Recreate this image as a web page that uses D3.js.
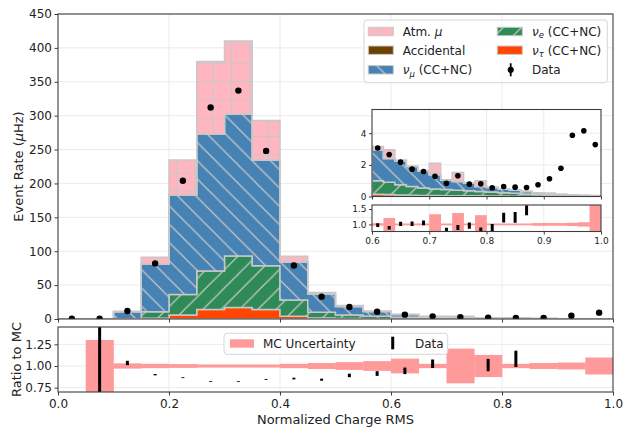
<!DOCTYPE html>
<html><head><meta charset="utf-8">
<script src="https://cdn.jsdelivr.net/npm/d3@7"></script>
<style>
body{margin:0;background:#fff}
svg{display:block}
text{font-family:"DejaVu Sans",sans-serif;fill:#222}
</style>
</head><body>
<svg id="c" width="624" height="428"></svg>
<script>
// ---------------- DATA ----------------
const mainEdges = [0.00,0.05,0.10,0.15,0.20,0.25,0.30,0.35,0.40,0.45,0.50,0.55,0.60,0.65,0.70,0.75,0.80,0.85,0.90,0.95,1.00];
const mainCenters = [0.025,0.075,0.125,0.175,0.225,0.275,0.325,0.375,0.425,0.475,0.525,0.575,0.625,0.675,0.725,0.775,0.825,0.875,0.925,0.975];
// stacked components (µHz), bottom -> top
const mainNuTau      = [0,0,0.2,1,6,14,17,14,4,1.5,0.8,0.5,0.3,0.2,0.15,0.1,0.08,0.05,0.03,0.02];
const mainNuE        = [0,0,0.3,9.8,30,57,76,64.5,24,8.5,5.2,3.5,2.1,1.2,0.95,0.7,0.52,0.3,0.12,0.08];
const mainNuMu       = [0,0,10.3,70.2,147,202,209,156.1,56,27,12.5,7,4.1,2.3,1.8,1.1,0.7,0.25,0.15,0.05];
const mainAccidental = [0,0,0,0,0,0,0,0,0,0,0,0,0,0,0,0,0,0,0,0];
const mainAtmMu      = [0,0,0.7,10,51.6,107,108,58.4,8.5,2,1.4,0.8,0.3,0.1,1.0,0.1,0.1,0.1,0.05,0.05];
const mainData       = [0.3,0.3,11.8,82,204,312,337,248,79,33,17.7,10.8,6.4,3.9,2.8,2.1,1.5,1.6,4.8,9.4];
// ratio panel
const mainMcUnc      = [null,0.30,0.03,0.025,0.022,0.018,0.018,0.018,0.025,0.035,0.045,0.056,0.085,0.025,0.2,0.128,0.025,0.035,0.04,0.098];
const mainRatio      = [null,1.0,1.035,0.90,0.865,0.82,0.82,0.845,0.855,0.842,0.891,0.913,0.944,1.026,0.62,1.011,1.083,2.3,13,47];
const mainRatioErr   = [null,5,0.025,0.008,0.005,0.004,0.004,0.005,0.01,0.012,0.02,0.027,0.038,0.049,0.05,0.071,0.094,0.2,1,2];

// inset (0.6 - 1.0, 0.02 bins)
const insetEdges = [0.60,0.62,0.64,0.66,0.68,0.70,0.72,0.74,0.76,0.78,0.80,0.82,0.84,0.86,0.88,0.90,0.92,0.94,0.96,0.98,1.00];
const insetCenters = [0.61,0.63,0.65,0.67,0.69,0.71,0.73,0.75,0.77,0.79,0.81,0.83,0.85,0.87,0.89,0.91,0.93,0.95,0.97,0.99];
const insetNuTau      = [0.15,0.12,0.1,0.08,0.07,0.06,0.05,0.05,0.04,0.04,0.03,0.03,0.02,0.02,0.02,0.01,0.01,0.01,0.01,0.01];
const insetNuE        = [0.85,0.78,0.64,0.55,0.46,0.42,0.39,0.35,0.32,0.28,0.25,0.2,0.19,0.13,0.11,0.09,0.05,0.04,0.02,0.01];
const insetNuMu       = [1.95,1.5,1.51,1.27,1.09,0.89,0.6,0.55,0.48,0.31,0.29,0.23,0.19,0.17,0.1,0.09,0.07,0.05,0.04,0.03];
const insetAccidental = [0,0,0,0,0,0,0,0,0,0,0,0,0,0,0,0,0,0,0,0];
const insetAtmMu      = [0.21,0.55,0.05,0.02,0.02,0.73,0.02,0.57,0.02,0.36,0.01,0.01,0.01,0.01,0.01,0.01,0.01,0.01,0.01,0.01];
const insetData       = [3.07,2.65,2.17,1.73,1.58,1.28,0.84,1.31,0.78,0.80,0.55,0.63,0.59,0.57,0.74,1.12,1.79,3.87,4.15,3.28];
const insetMcUnc      = [0.04,0.21,0.03,0.03,0.03,0.33,0.03,0.37,0.03,0.3,0.03,0.03,0.03,0.03,0.045,0.045,0.045,0.055,0.07,0.65];
const insetRatio      = [0.98,0.89,1.02,1.02,1.05,0.55,0.82,0.9,0.96,0.82,0.89,1.22,1.23,1.46,2.5,4,9,30,40,40];
const insetRatioErr   = [0.06,0.055,0.07,0.075,0.08,0.05,0.07,0.08,0.1,0.08,0.12,0.16,0.175,0.165,0.3,0.5,1,3,3,3];

// ticks
const mainYTicks   = [0,50,100,150,200,250,300,350,400,450];
const xTicks       = [0.0,0.2,0.4,0.6,0.8,1.0];
const ratioYTicks  = [0.75,1.00,1.25];
const insetXTicks  = [0.6,0.7,0.8,0.9,1.0];
const insetYTicks  = [0,2,4];
const insetRYTicks = [1.0,1.5];

// ---------------- STYLE ----------------
const C_ATM="#ffb6c1", C_ACC="#6b4200", C_MU="#4682b4", C_E="#2e8b57", C_TAU="#ff4500", C_BAND="#ff9a9a";
const EDGE="#c8c8c8", SPINE="#3d3d3d", GRID="#ebebeb";
const HS = 18.3;

const svg = d3.select("#c");
const defs = svg.append("defs");
function pattern(id, d, tx, ty){
  defs.append("pattern").attr("id",id).attr("patternUnits","userSpaceOnUse")
    .attr("width",HS).attr("height",HS).attr("patternTransform",`translate(${tx||0},${ty||0})`)
    .append("path").attr("d",d).attr("fill","none").attr("stroke",EDGE).attr("stroke-width",1.2);
}
pattern("hBack",`M-1,-1L${HS+1},${HS+1}M${HS-1},-1L${HS+1},1M-1,${HS-1}L1,${HS+1}`);
pattern("hFwd",`M-1,${HS+1}L${HS+1},-1M-1,1L1,-1M${HS-1},${HS+1}L${HS+1},${HS-1}`);
pattern("hPlus",`M${HS/2},0V${HS}M0,${HS/2}H${HS}`,2.85,-0.75);

function clip(id,x0,y0,x1,y1){
  defs.append("clipPath").attr("id",id).append("rect").attr("x",x0).attr("y",y0).attr("width",x1-x0).attr("height",y1-y0);
}

// ---------------- SCALES ----------------
const X0=58, X1=613;
const x = d3.scaleLinear([0,1],[X0,X1]);
const yMain = d3.scaleLinear([0,450],[319,14]);
const yRatio = d3.scaleLinear([0.7,1.45],[392,327]);
const IX0=372, IX1=601;
const xIn = d3.scaleLinear([0.6,1.0],[IX0,IX1]);
const yIn = d3.scaleLinear([0,5.5],[196.5,109.5]);
const yInR = d3.scaleLinear([0.77,1.63],[231.5,205]);

clip("cMain",X0,14,X1,319);
clip("cRatio",X0,327,X1,392);
clip("cIn",IX0,109.5,IX1,196.5);
clip("cInR",IX0,205,IX1,231.5);

function styleAxis(g, fs){
  g.select(".domain").remove();
  g.selectAll(".tick line").attr("stroke",SPINE).attr("stroke-width",1);
  g.selectAll(".tick text").attr("font-size",fs).attr("fill","#222").attr("font-family","DejaVu Sans");
}
function grid(g, xs, ys, xv, yv, x0,x1,y0,y1){
  g.selectAll(null).data(xv).join("line").attr("x1",d=>xs(d)).attr("x2",d=>xs(d)).attr("y1",y0).attr("y2",y1)
    .attr("stroke",GRID).attr("stroke-width",1);
  g.selectAll(null).data(yv).join("line").attr("y1",d=>ys(d)).attr("y2",d=>ys(d)).attr("x1",x0).attr("x2",x1)
    .attr("stroke",GRID).attr("stroke-width",1);
}
function frame(x0,y0,x1,y1){
  svg.append("rect").attr("x",x0).attr("y",y0).attr("width",x1-x0).attr("height",y1-y0)
    .attr("fill","none").attr("stroke",SPINE).attr("stroke-width",1.1);
}
function drawStack(g, edges, comps, colors, hatches, xs, ys){
  const n = edges.length-1;
  let base = new Array(n).fill(0);
  comps.forEach((vals,k)=>{
    const top = base.map((b,i)=>b+vals[i]);
    const pts = edges.map((e,j)=>({x:e, y0:base[Math.min(j,n-1)], y1:top[Math.min(j,n-1)]}));
    const dp = d3.area().curve(d3.curveStepAfter).x(d=>xs(d.x)).y0(d=>ys(d.y0)).y1(d=>ys(d.y1))(pts);
    g.append("path").attr("d",dp).attr("fill",colors[k]);
    if(hatches[k]) g.append("path").attr("d",dp).attr("fill",`url(#${hatches[k]})`);
    g.append("path").attr("d",dp).attr("fill","none").attr("stroke",EDGE).attr("stroke-width",1.5).attr("stroke-linejoin","miter");
    base = top;
  });
}
function drawRatio(g, edges, centers, unc, ratio, err, xs, ys, bw){
  const bins = unc.map((u,i)=>({u, a:edges[i], b:edges[i+1]})).filter(d=>d.u!=null);
  g.selectAll(null).data(bins).join("rect")
    .attr("x",d=>xs(d.a)).attr("width",d=>xs(d.b)-xs(d.a)+0.3)
    .attr("y",d=>ys(1+d.u)).attr("height",d=>ys(1-d.u)-ys(1+d.u)).attr("fill",C_BAND);
  const pts = ratio.map((r,i)=>({r, e:err[i], c:centers[i]})).filter(d=>d.r!=null);
  g.selectAll(null).data(pts).join("line")
    .attr("x1",d=>xs(d.c)).attr("x2",d=>xs(d.c))
    .attr("y1",d=>ys(d.r-d.e)).attr("y2",d=>Math.min(ys(d.r+d.e), ys(d.r-d.e)-0.8))
    .attr("stroke","#000").attr("stroke-width",bw);
}

// ---------------- MAIN PANEL ----------------
const gMain = svg.append("g");
grid(gMain, x, yMain, [0.2,0.4,0.6,0.8], mainYTicks.slice(1), X0, X1, 14, 319);
const gStack = gMain.append("g").attr("clip-path","url(#cMain)");
drawStack(gStack, mainEdges, [mainNuTau,mainNuE,mainNuMu,mainAccidental,mainAtmMu],
  [C_TAU,C_E,C_MU,C_ACC,C_ATM], [null,"hFwd","hBack",null,"hPlus"], x, yMain);
gStack.selectAll(null).data(mainData.map((v,i)=>({v,c:mainCenters[i]}))).join("circle")
  .attr("cx",d=>x(d.c)).attr("cy",d=>yMain(d.v)).attr("r",3.2).attr("fill","#000");
svg.append("g").attr("transform",`translate(${X0},0)`)
  .call(d3.axisLeft(yMain).tickValues(mainYTicks).tickSize(3.5).tickPadding(2.5).tickFormat(d3.format("d")))
  .call(g=>styleAxis(g,12));
svg.append("g").attr("transform",`translate(0,319)`)
  .call(d3.axisBottom(x).tickValues(xTicks).tickSize(3.5).tickFormat(""))
  .call(g=>styleAxis(g,12));
frame(X0,14,X1,319);

// ---------------- RATIO PANEL ----------------
const gR = svg.append("g");
grid(gR, x, yRatio, [0.2,0.4,0.6,0.8], ratioYTicks, X0, X1, 327, 392);
const gRc = gR.append("g").attr("clip-path","url(#cRatio)");
drawRatio(gRc, mainEdges, mainCenters, mainMcUnc, mainRatio, mainRatioErr, x, yRatio, 3);
svg.append("g").attr("transform",`translate(${X0},0)`)
  .call(d3.axisLeft(yRatio).tickValues(ratioYTicks).tickSize(3.5).tickPadding(2.5).tickFormat(d3.format(".2f")))
  .call(g=>styleAxis(g,12));
svg.append("g").attr("transform",`translate(0,392)`)
  .call(d3.axisBottom(x).tickValues(xTicks).tickSize(3.5).tickPadding(4).tickFormat(d3.format(".1f")))
  .call(g=>styleAxis(g,12));
frame(X0,327,X1,392);

// ---------------- INSET ----------------
svg.append("rect").attr("x",IX0).attr("y",109.5).attr("width",IX1-IX0).attr("height",87).attr("fill","#fff");
svg.append("rect").attr("x",IX0).attr("y",205).attr("width",IX1-IX0).attr("height",26.5).attr("fill","#fff");
const gI = svg.append("g");
grid(gI, xIn, yIn, [0.7,0.8,0.9], [2,4], IX0, IX1, 109.5, 196.5);
const gIc = gI.append("g").attr("clip-path","url(#cIn)");
drawStack(gIc, insetEdges, [insetNuTau,insetNuE,insetNuMu,insetAccidental,insetAtmMu],
  [C_TAU,C_E,C_MU,C_ACC,C_ATM], [null,"hFwd","hBack",null,"hPlus"], xIn, yIn);
gIc.selectAll(null).data(insetData.map((v,i)=>({v,c:insetCenters[i]}))).join("circle")
  .attr("cx",d=>xIn(d.c)).attr("cy",d=>yIn(d.v)).attr("r",2.8).attr("fill","#000");
svg.append("g").attr("transform",`translate(${IX0},0)`)
  .call(d3.axisLeft(yIn).tickValues(insetYTicks).tickSize(3).tickPadding(2.5).tickFormat(d3.format("d")))
  .call(g=>styleAxis(g,9));
svg.append("g").attr("transform",`translate(0,196.5)`)
  .call(d3.axisBottom(xIn).tickValues(insetXTicks).tickSize(3).tickFormat(""))
  .call(g=>styleAxis(g,9));
frame(IX0,109.5,IX1,196.5);

const gIR = svg.append("g");
grid(gIR, xIn, yInR, [0.7,0.8,0.9], [], IX0, IX1, 205, 231.5);
const gIRc = gIR.append("g").attr("clip-path","url(#cInR)");
drawRatio(gIRc, insetEdges, insetCenters, insetMcUnc, insetRatio, insetRatioErr, xIn, yInR, 3);
svg.append("g").attr("transform",`translate(${IX0},0)`)
  .call(d3.axisLeft(yInR).tickValues(insetRYTicks).tickSize(3).tickPadding(2.5).tickFormat(d3.format(".1f")))
  .call(g=>styleAxis(g,9));
svg.append("g").attr("transform",`translate(0,231.5)`)
  .call(d3.axisBottom(xIn).tickValues(insetXTicks).tickSize(3).tickPadding(3.5).tickFormat(d3.format(".1f")))
  .call(g=>styleAxis(g,9));
frame(IX0,205,IX1,231.5);

// ---------------- LABELS ----------------
const yl = svg.append("text").attr("transform","translate(23,166.5) rotate(-90)").attr("text-anchor","middle").attr("font-size",13);
yl.append("tspan").text("Event Rate (");
yl.append("tspan").attr("font-style","italic").text("μ");
yl.append("tspan").text("Hz)");
svg.append("text").attr("transform","translate(20.5,359.5) rotate(-90)").attr("text-anchor","middle").attr("font-size",13).text("Ratio to MC");
svg.append("text").attr("x",(X0+X1)/2).attr("y",423.5).attr("text-anchor","middle").attr("font-size",13).text("Normalized Charge RMS");

// ---------------- LEGENDS ----------------
const lg = svg.append("g");
lg.append("rect").attr("x",364).attr("y",20).attr("width",243.3).attr("height",62.7).attr("rx",3)
  .attr("fill","#fff").attr("fill-opacity",0.8).attr("stroke","#d6d6d6").attr("stroke-width",1);
const legendItems = [
  {col:0,row:0,fill:C_ATM,hatch:"hPlus",label:[["Atm. ",""],["μ","i"]]},
  {col:0,row:1,fill:C_ACC,hatch:null,label:[["Accidental",""]]},
  {col:0,row:2,fill:C_MU,hatch:"hBack",label:[["ν","i"],["μ","s"],[" (CC+NC)",""]]},
  {col:1,row:0,fill:C_E,hatch:"hFwd",label:[["ν","i"],["e","s"],[" (CC+NC)",""]]},
  {col:1,row:1,fill:C_TAU,hatch:null,label:[["ν","i"],["τ","s"],[" (CC+NC)",""]]},
  {col:1,row:2,data:true,label:[["Data",""]]}
];
const rowY=[31.5,50.2,69.8], colPX=[368.3,497.3], colTX=[402.7,532];
legendItems.forEach(it=>{
  const cy=rowY[it.row], px=colPX[it.col];
  if(it.data){
    lg.append("line").attr("x1",px+13.4).attr("x2",px+13.4).attr("y1",cy-6.5).attr("y2",cy+6.5).attr("stroke","#000").attr("stroke-width",1.8);
    lg.append("circle").attr("cx",px+13.4).attr("cy",cy).attr("r",3.1).attr("fill","#000");
  } else {
    lg.append("rect").attr("x",px).attr("y",cy-4.2).attr("width",25).attr("height",8.4).attr("fill",it.fill)
      .attr("stroke",EDGE).attr("stroke-width",1);
    if(it.hatch) lg.append("rect").attr("x",px).attr("y",cy-4.2).attr("width",25).attr("height",8.4).attr("fill",`url(#${it.hatch})`);
  }
  const t = lg.append("text").attr("x",colTX[it.col]).attr("y",cy+4.3).attr("font-size",12);
  let sub=false;
  it.label.forEach(([s,k])=>{
    const ts=t.append("tspan").text(s);
    if(k==="i") ts.attr("font-style","italic");
    if(k==="s"){ ts.attr("font-style","italic").attr("font-size",8.5).attr("dy",2.5); sub=true; }
    else if(sub){ ts.attr("dy",-2.5); sub=false; }
  });
});

const rl = svg.append("g");
rl.append("rect").attr("x",224).attr("y",333.3).attr("width",223.7).attr("height",21).attr("rx",3)
  .attr("fill","#fff").attr("fill-opacity",0.8).attr("stroke","#d6d6d6").attr("stroke-width",1);
rl.append("rect").attr("x",230).attr("y",339.3).attr("width",24).attr("height",8.4).attr("fill",C_BAND);
rl.append("text").attr("x",263).attr("y",347.8).attr("font-size",12).text("MC Uncertainty");
rl.append("line").attr("x1",392.7).attr("x2",392.7).attr("y1",336.7).attr("y2",349.3).attr("stroke","#000").attr("stroke-width",3);
rl.append("text").attr("x",415).attr("y",347.8).attr("font-size",12).text("Data");
</script>
</body></html>
